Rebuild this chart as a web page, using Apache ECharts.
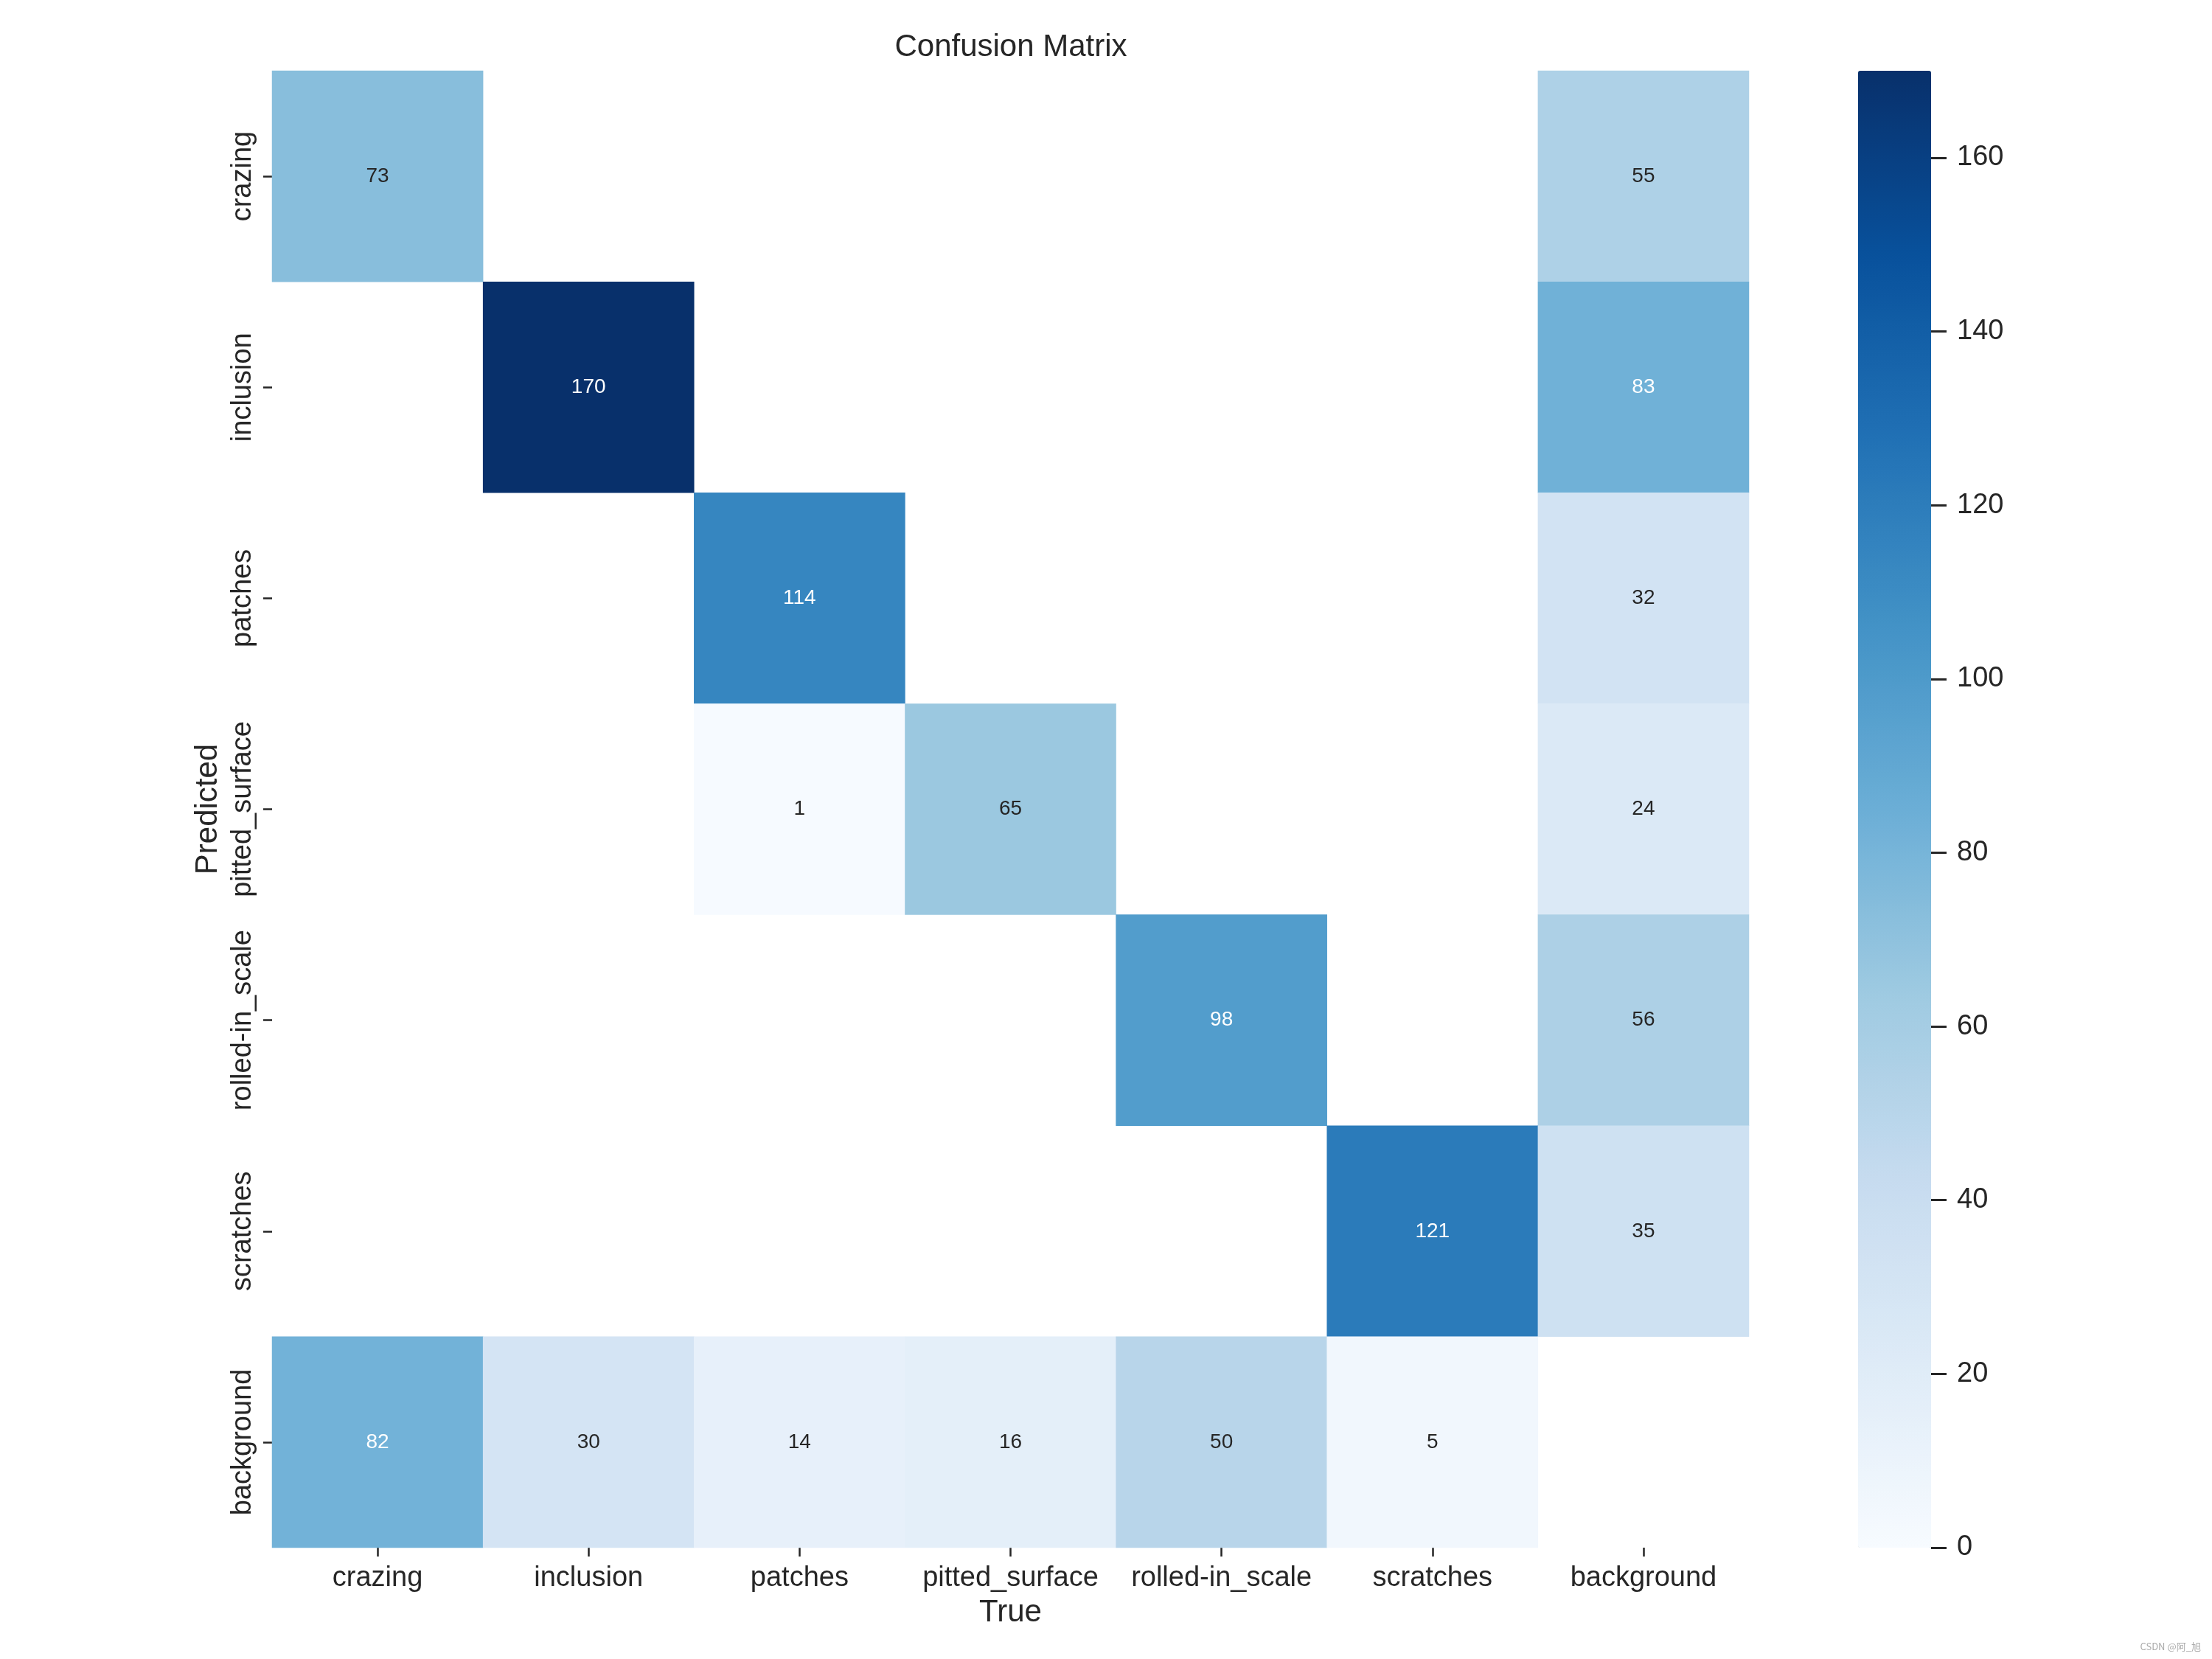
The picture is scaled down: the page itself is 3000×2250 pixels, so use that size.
<!DOCTYPE html>
<html>
<head>
<meta charset="utf-8">
<script src="https://cdn.jsdelivr.net/npm/echarts@6/dist/echarts.min.js"></script>
<style>html,body{margin:0;padding:0;background:#fff}#chart{width:3000px;height:2250px}</style>
</head>
<body>
<div id="chart"></div>
<script>
// ---- data ----
const classes = ['crazing', 'inclusion', 'patches', 'pitted_surface', 'rolled-in_scale', 'scratches', 'background'];
// rows = Predicted, columns = True
const predCrazing       = [73, 0, 0, 0, 0, 0, 55];
const predInclusion     = [0, 170, 0, 0, 0, 0, 83];
const predPatches       = [0, 0, 114, 0, 0, 0, 32];
const predPittedSurface = [0, 0, 1, 65, 0, 0, 24];
const predRolledInScale = [0, 0, 0, 0, 98, 0, 56];
const predScratches     = [0, 0, 0, 0, 0, 121, 35];
const predBackground    = [82, 30, 14, 16, 50, 5, 0];
const colorbarTicks = [0, 20, 40, 60, 80, 100, 120, 140, 160];
const colorMin = 0;
const colorMax = 170;
const watermark = 'CSDN @阿_旭';

const matrix = [predCrazing, predInclusion, predPatches, predPittedSurface, predRolledInScale, predScratches, predBackground];

// matplotlib "Blues"
const blues = ['#f7fbff', '#deebf7', '#c6dbef', '#9ecae1', '#6baed6', '#4292c6', '#2171b5', '#08519c', '#08306b'];
function hexToRgb(h) { return [1, 3, 5].map(i => parseInt(h.substr(i, 2), 16)); }
function bluesAt(v) {
  let t = (v - colorMin) / (colorMax - colorMin);
  t = Math.max(0, Math.min(1, t)) * (blues.length - 1);
  const i = Math.min(Math.floor(t), blues.length - 2);
  const f = t - i;
  const a = hexToRgb(blues[i]), b = hexToRgb(blues[i + 1]);
  return a.map((c, k) => c + (b[k] - c) * f);
}
function lum(rgb) {
  const l = rgb.map(c => { c /= 255; return c <= 0.03928 ? c / 12.92 : Math.pow((c + 0.055) / 1.055, 2.4); });
  return 0.2126 * l[0] + 0.7152 * l[1] + 0.0722 * l[2];
}

const cells = [];
matrix.forEach((row, r) => row.forEach((v, c) => {
  if (v > 0) {
    cells.push({ value: [c, r, v], label: { color: lum(bluesAt(v)) > 0.408 ? '#262626' : '#ffffff' } });
  }
}));

const FONT = '"Liberation Sans", Arial, Helvetica, sans-serif';
const TXT = '#262626';

const chart = echarts.init(document.getElementById('chart'), null, { renderer: 'canvas' });
chart.setOption({
  backgroundColor: '#ffffff',
  animation: false,
  title: {
    text: 'Confusion Matrix',
    left: 1371, top: 43, textAlign: 'center', padding: 0,
    textStyle: { fontFamily: FONT, fontSize: 42, fontWeight: 'normal', color: TXT }
  },
  grid: [
    { left: 369, top: 96, width: 2003, height: 2003, containLabel: false },
    { left: 2520, top: 96, width: 99, height: 2003, containLabel: false }
  ],
  xAxis: [
    {
      type: 'category', gridIndex: 0, data: classes, position: 'bottom',
      name: 'True', nameLocation: 'middle', nameGap: 67,
      nameTextStyle: { fontFamily: FONT, fontSize: 42, color: TXT },
      axisLine: { show: false },
      axisTick: { show: true, alignWithLabel: true, length: 12, lineStyle: { color: TXT, width: 2.5 } },
      axisLabel: { fontFamily: FONT, fontSize: 38, color: TXT, margin: 23, interval: 0 },
      splitLine: { show: false }, splitArea: { show: false }
    },
    { type: 'value', gridIndex: 1, show: false, min: 0, max: 1 }
  ],
  yAxis: [
    {
      type: 'category', gridIndex: 0, data: classes, inverse: true, position: 'left',
      name: 'Predicted', nameLocation: 'middle', nameGap: 64, nameRotate: 90,
      nameTextStyle: { fontFamily: FONT, fontSize: 42, color: TXT },
      axisLine: { show: false },
      axisTick: { show: true, alignWithLabel: true, length: 12, lineStyle: { color: TXT, width: 2.5 } },
      axisLabel: { fontFamily: FONT, fontSize: 38, color: TXT, margin: 20, rotate: 90, interval: 0 },
      splitLine: { show: false }, splitArea: { show: false }
    },
    {
      type: 'value', gridIndex: 1, position: 'right', min: colorMin, max: colorMax, z: 10,
      axisLine: { show: false, onZero: false },
      axisTick: { show: true, inside: false, length: 21, customValues: colorbarTicks, lineStyle: { color: TXT, width: 3 } },
      axisLabel: { fontFamily: FONT, fontSize: 38, color: TXT, margin: 35, customValues: colorbarTicks, padding: [7, 0, 0, 0] },
      splitLine: { show: false }
    }
  ],
  visualMap: {
    type: 'continuous', min: colorMin, max: colorMax, seriesIndex: 0, dimension: 2,
    orient: 'vertical', left: 2520, top: 96, itemWidth: 99, itemHeight: 2003,
    padding: 0, calculable: false, text: null, hoverLink: false,
    inRange: { color: blues }
  },
  series: [{
    type: 'heatmap', xAxisIndex: 0, yAxisIndex: 0, data: cells,
    label: { show: true, fontFamily: FONT, fontSize: 28, formatter: p => String(p.value[2]) },
    itemStyle: { borderWidth: 0 },
    emphasis: { disabled: true }
  }],
  graphic: [{
    type: 'text', right: 15, bottom: 10,
    style: { text: watermark, fontFamily: '"Noto Sans CJK SC", sans-serif', fontSize: 13, fill: '#aaaaaa' }
  }]
});
</script>
</body>
</html>
